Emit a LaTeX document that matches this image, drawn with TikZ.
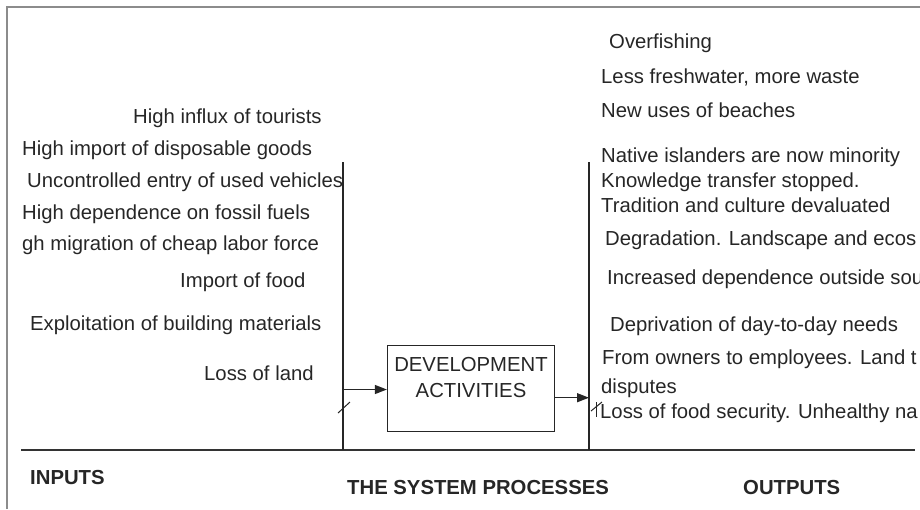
\documentclass[tikz,border=0pt]{standalone}
\usepackage{fontspec}
\setmainfont{Liberation Sans}
\usetikzlibrary{arrows.meta}
\begin{document}
\begin{tikzpicture}[x=1pt,y=-1pt,
  txt/.style={anchor=base west, inner sep=0pt, font=\fontsize{20.3}{24}\selectfont, text=black!85},
  head/.style={anchor=base west, inner sep=0pt, font=\fontsize{20.3}{24}\selectfont\bfseries, text=black!85},
  ctr/.style={anchor=base, inner sep=0pt, font=\fontsize{20.3}{24}\selectfont, text=black!85},
  rulel/.style={line width=1.6pt, draw=black!80},
  vline/.style={line width=1.4pt, draw=black!85},
  framel/.style={line width=2pt, draw=black!45},
  tick/.style={line width=1pt, draw=black!85},
  arr/.style={line width=1.3pt, draw=black!85, -{Triangle[length=12pt,width=9pt]}},
  devbox/.style={draw=black!85, line width=1.3pt, minimum width=167pt, minimum height=86pt, inner sep=0pt}]
\useasboundingbox (0,0) rectangle (920,509);
\clip (0,0) rectangle (920,509);
% frame
\coordinate (fbl) at (7,509);
\coordinate (ftl) at (7,7);
\coordinate (ftr) at (920,7);
\draw[framel] (fbl) -- (ftl) -- (ftr);
% base rule
\coordinate (rl) at (21,450);
\coordinate (rr) at (915,450);
\draw[rulel] (rl) -- (rr);
% verticals
\coordinate (Lt) at (343,162);
\coordinate (Lb) at (343,450);
\coordinate (Rt) at (589,162);
\coordinate (Rb) at (589,450);
\draw[vline] (Lt) -- (Lb);
\draw[vline] (Rt) -- (Rb);
% box
\node[devbox] (dev) at (471,388.5) {};
\node[ctr] (devA) at (471,371) {DEVELOPMENT};
\node[ctr] (devB) at (471,397) {ACTIVITIES};
% arrows
\coordinate (a1s) at (343,389.5);
\coordinate (a2e) at (589,397.7);
\draw[arr] (a1s) -- (a1s -| dev.west);
\draw[arr] (a2e -| dev.east) -- (a2e);
% ticks
\coordinate (t1a) at (338,413);
\coordinate (t1b) at (350,402);
\coordinate (t2a) at (591,411);
\coordinate (t2b) at (602,402);
\coordinate (t3a) at (596,402);
\coordinate (t3b) at (596,417);
\draw[tick] (t1a) -- (t1b);
\draw[tick] (t2a) -- (t2b);
\draw[tick] (t3a) -- (t3b);
% inputs
\node[txt] (i1) at (133,123) {High influx of tourists};
\node[txt] (i2) at (22,155) {High import of disposable goods};
\node[txt] (i3) at (27,187) {Uncontrolled entry of used vehicles};
\node[txt] (i4) at (22,219) {High dependence on fossil fuels};
\node[txt] (i5) at (22,250) {gh migration of cheap labor force};
\node[txt] (i6) at (180,287) {Import of food};
\node[txt] (i7) at (30,330) {Exploitation of building materials};
\node[txt] (i8) at (204,380) {Loss of land};
% outputs
\node[txt] (o1) at (609,48) {Overfishing};
\node[txt] (o2) at (601,83) {Less freshwater, more waste};
\node[txt] (o3) at (601,117) {New uses of beaches};
\node[txt] (o4) at (601,162) {Native islanders are now minority};
\node[txt] (o5) at (601,187) {Knowledge transfer stopped.};
\node[txt] (o6) at (601,212) {Tradition and culture devaluated};
\node[txt] (o7) at (605,245) {Degradation. Landscape and ecos};
\node[txt] (o8) at (607,284) {Increased dependence outside sou};
\node[txt] (o9) at (610,331) {Deprivation of day-to-day needs};
\node[txt] (o10) at (602,364) {From owners to employees. Land t};
\node[txt] (o11) at (601,393) {disputes};
\node[txt] (o12) at (600,418) {Loss of food security. Unhealthy na};
% headings
\node[head] (hin) at (30,484) {INPUTS};
\node[head] (hsys) at (347,494) {THE SYSTEM PROCESSES};
\node[head] (hout) at (743,494) {OUTPUTS};
\end{tikzpicture}
\end{document}
